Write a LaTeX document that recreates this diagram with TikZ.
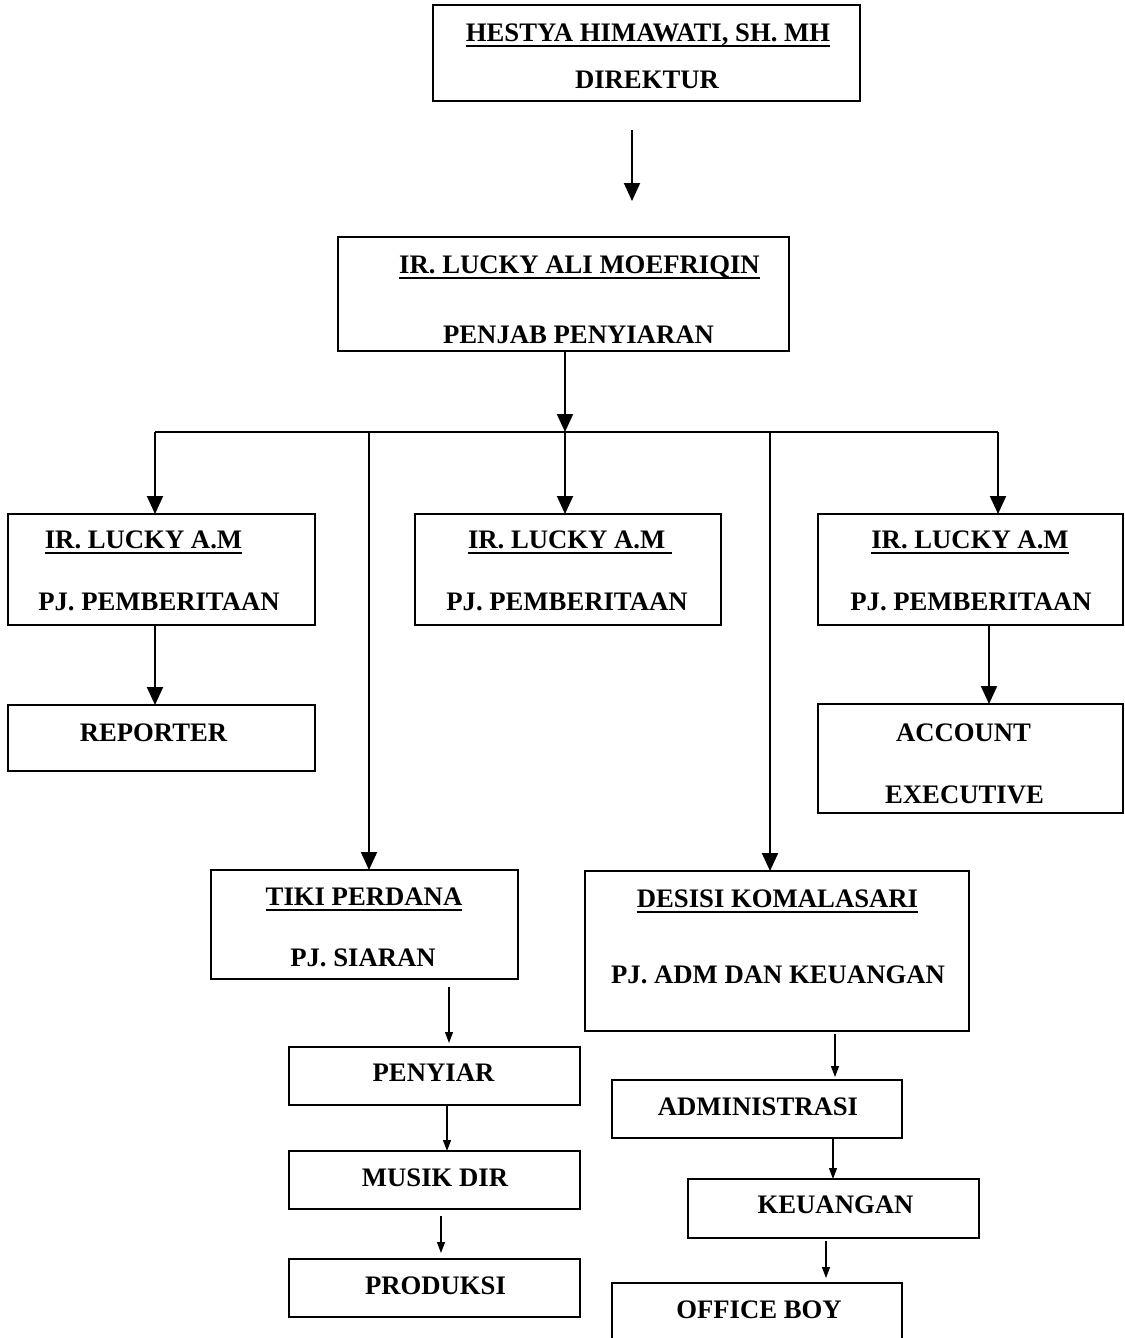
\documentclass[tikz,border=0pt]{standalone}
\usepackage{fontspec}
\setmainfont{Liberation Serif}
\usetikzlibrary{arrows.meta,calc}
\newdimen\pxu \pxu=0.02cm
\newcommand\myul[1]{\setbox0\hbox{#1}\rlap{\rule[-2.7pt]{\wd0}{1.1pt}}\box0}
\begin{document}
\begin{tikzpicture}[x=0.02cm,y=-0.02cm,
 box/.style={draw, line width=0.036cm, inner sep=0pt, outer sep=0pt},
 lbl/.style={inner sep=0pt, text height=10pt, text depth=0pt, font=\fontsize{15.2}{18}\selectfont\bfseries},
 thickarrow/.style={line width=0.04cm, -{Triangle[length=0.36cm,width=0.32cm]}},
 thinarrow/.style={line width=0.026cm, -{Triangle[length=0.22cm,width=0.16cm]}},
 barline/.style={line width=0.04cm}]
\useasboundingbox (0,0) rectangle (1125,1338);
\fill[white] (0,0) rectangle (1125,1338);
% boxes
\node[box, minimum width=427\pxu, minimum height=96\pxu] (dir) at (646.5,53) {};
\node[box, minimum width=451\pxu, minimum height=114\pxu] (pen) at (563.5,294) {};
\node[box, minimum width=307\pxu, minimum height=111\pxu] (bl) at (161.5,569.5) {};
\node[box, minimum width=306\pxu, minimum height=111\pxu] (bm) at (568,569.5) {};
\node[box, minimum width=305\pxu, minimum height=111\pxu] (br) at (970.5,569.5) {};
\node[box, minimum width=307\pxu, minimum height=66\pxu] (rep) at (161.5,738) {};
\node[box, minimum width=305\pxu, minimum height=109\pxu] (acc) at (970.5,758.5) {};
\node[box, minimum width=307\pxu, minimum height=109\pxu] (tiki) at (364.5,924.5) {};
\node[box, minimum width=384\pxu, minimum height=160\pxu] (des) at (777,951) {};
\node[box, minimum width=291\pxu, minimum height=58\pxu] (penyiar) at (434.5,1076) {};
\node[box, minimum width=291\pxu, minimum height=58\pxu] (musik) at (434.5,1180) {};
\node[box, minimum width=291\pxu, minimum height=58\pxu] (prod) at (434.5,1288) {};
\node[box, minimum width=290\pxu, minimum height=58\pxu] (adm) at (757,1109) {};
\node[box, minimum width=291\pxu, minimum height=59\pxu] (keu) at (833.5,1208.5) {};
\node[box, minimum width=290\pxu, minimum height=87\pxu] (off) at (757,1326.5) {};
% texts
\node[lbl] (t1) at (648,33) {\myul{HESTYA HIMAWATI, SH. MH}};
\node[lbl] (t2) at (647,80) {DIREKTUR};
\node[lbl] (t3) at (579.5,265) {\myul{IR. LUCKY ALI MOEFRIQIN}};
\node[lbl] (t4) at (578.5,335) {PENJAB PENYIARAN};
\node[lbl] (t5) at (143.5,540) {\myul{IR. LUCKY A.M}};
\node[lbl] (t6) at (159,602) {PJ. PEMBERITAAN};
\node[lbl] (t7) at (570,540) {\myul{IR. LUCKY A.M\ }};
\node[lbl] (t8) at (567,602) {PJ. PEMBERITAAN};
\node[lbl] (t9) at (970,540) {\myul{IR. LUCKY A.M}};
\node[lbl] (t10) at (971,602) {PJ. PEMBERITAAN};
\node[lbl] (t11) at (153.5,733) {REPORTER};
\node[lbl] (t12) at (963.5,733) {ACCOUNT};
\node[lbl] (t13) at (964.5,795) {EXECUTIVE};
\node[lbl] (t14) at (364,897) {\myul{TIKI PERDANA}};
\node[lbl] (t15) at (363,958) {PJ. SIARAN};
\node[lbl] (t16) at (777.5,899) {\myul{DESISI KOMALASARI}};
\node[lbl] (t17) at (778,975) {PJ. ADM DAN KEUANGAN};
\node[lbl] (t18) at (433.5,1073) {PENYIAR};
\node[lbl] (t19) at (435,1178) {MUSIK DIR};
\node[lbl] (t20) at (435.5,1286) {PRODUKSI};
\node[lbl] (t21) at (758,1107) {ADMINISTRASI};
\node[lbl] (t22) at (835.5,1205) {KEUANGAN};
\node[lbl] (t23) at (759,1310) {OFFICE BOY};
% connector coordinates
\coordinate (a1) at (632,130);
\coordinate (a2) at (632,201);
\coordinate (bc) at (565,432);
\coordinate (bx1) at (155,432);
\coordinate (bx2) at (369,432);
\coordinate (bx4) at (770,432);
\coordinate (bx5) at (998,432);
\coordinate (s1) at (449,987);
\coordinate (s2) at (441,1216);
\coordinate (s3) at (835,1034);
\coordinate (s4) at (826,1241);
% thick connectors
\draw[thickarrow] (a1) -- (a2);
\draw[thickarrow] (pen.south -| bc) -- (bc);
\draw[barline] (bx1) -- (bx5);
\draw[thickarrow] (bx1) -- (bl.north -| bx1);
\draw[thickarrow] (bx2) -- (tiki.north -| bx2);
\draw[thickarrow] (bc) -- (bm.north -| bc);
\draw[thickarrow] (bx4) -- (des.north -| bx4);
\draw[thickarrow] (bx5) -- (br.north -| bx5);
\draw[thickarrow] (bl.south -| bx1) -- (rep.north -| bx1);
\draw[thickarrow] ($(br.south)+(18.5,0)$) -- ($(acc.north)+(18.5,0)$);
% thin connectors
\draw[thinarrow, shorten >=4\pxu] (s1) -- (penyiar.north -| s1);
\draw[thinarrow] ($(penyiar.south)+(12.5,0)$) -- ($(musik.north)+(12.5,0)$);
\draw[thinarrow, shorten >=6\pxu] (s2) -- (prod.north -| s2);
\draw[thinarrow, shorten >=3\pxu] (s3) -- (adm.north -| s3);
\draw[thinarrow] ($(adm.south)+(76,0)$) -- ($(keu.north)+(-0.5,0)$);
\draw[thinarrow, shorten >=5\pxu] (s4) -- (off.north -| s4);
\end{tikzpicture}
\end{document}
